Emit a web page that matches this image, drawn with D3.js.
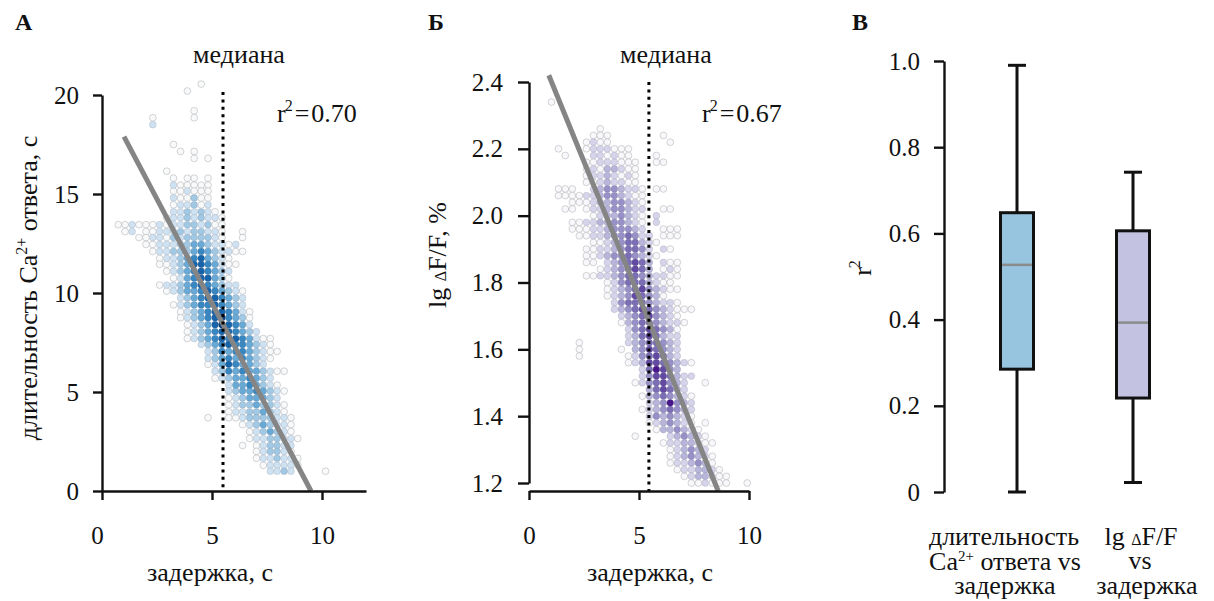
<!DOCTYPE html>
<html>
<head>
<meta charset="utf-8">
<title>задержка</title>
<script src="https://cdn.jsdelivr.net/npm/d3@7"></script>
<style>
  body { margin: 0; background: #fff; }
  text { font-family: "Liberation Serif", "Times New Roman", serif; fill: #111; }
</style>
</head>
<body>
<div id="chart"></div>
<script>
// ---- data ----
// panel A: grid columns (x, s) for n = -10..20, rows [y, first n, density levels]
var gridXA = [0.74, 1.05, 1.37, 1.68, 2.0, 2.31, 2.62, 2.94, 3.25, 3.57, 3.88, 4.19, 4.51, 4.82, 5.14,
              5.45, 5.76, 6.08, 6.39, 6.71, 7.02, 7.33, 7.65, 7.96, 8.28, 8.59, 8.9, 9.22, 9.53, 9.85, 10.16];
var rowsA = [
  [20.55, 2, "0"], [20.2, 0, "0"], [19.2, 1, "0"], [18.85, -5, "0.....0"], [18.5, -5, "1"],
  [17.5, -2, "0"], [17.15, -1, "0.0"], [16.8, 1, "0.0"], [16.15, -3, "0"], [15.8, -2, "0.00.0"],
  [15.45, -2, "100000"], [15.15, -2, "001000"], [14.8, -2, "100200"], [14.45, -2, "011201"],
  [14.1, -2, "1121210"], [13.8, -3, "011212110"], [13.45, -10, "0010001011221200"],
  [13.1, -9, "01.001112122110..0"], [12.8, -7, "0011021222210..0"], [12.45, -6, "00111223321101"],
  [12.1, -5, "01122234321100"], [11.75, -4, "01123453210"], [11.45, -4, "001235543100"],
  [11.1, -3, "0123454321"], [10.75, -2, "013455320"], [10.4, -4, "011234543211"],
  [10.1, -3, "012334543210"], [9.75, -1, "1234554321"], [9.4, -2, "01234454321"],
  [9.05, -1, "01234554310"], [8.75, -1, "01234564320"], [8.4, 0, "0123565431"],
  [8.05, 0, "01234554321"], [7.7, 0, "0123454543100"], [7.4, 2, "12345443210"],
  [7.05, 3, "12434432100"], [6.7, 3, "1234343210"], [6.4, 3, "013543321"],
  [6.05, 4, "12434332100"], [5.7, 4, "012334321"], [5.35, 6, "13343210"],
  [5.05, 6, "123343210"], [4.7, 6, "01233321"], [4.35, 6, "012232210"], [4.0, 6, "011223210"],
  [3.7, 3, "0..0012222110"], [3.35, 8, "01232110"], [3.0, 9, "0123210"], [2.65, 9, "01122110"],
  [2.3, 8, "0.012211"], [2.0, 10, "012210"], [1.65, 10, "0112110"], [1.3, 11, "011110"],
  [1.0, 12, "1121....0"]
];
var fitA = [[1.0, 17.9], [9.5, 0]];
var medianA = 5.5;
var r2A = "0.70";

// panel Б: grid columns for n = -14..14
var gridXB = [1.02, 1.34, 1.65, 1.97, 2.29, 2.61, 2.93, 3.24, 3.56, 3.88, 4.2, 4.52, 4.83, 5.15, 5.47,
              5.79, 6.11, 6.42, 6.74, 7.06, 7.38, 7.70, 8.01, 8.33, 8.65, 8.97, 9.29, 9.6, 9.92];
var rowsB = [
  [2.34, -14, "0"], [2.26, -7, "0"], [2.24, -8, "000.......0"], [2.22, -9, "0100........0"],
  [2.20, -13, "0...0111000"], [2.18, -12, "0...110100...0"], [2.16, -9, "00111000..00"],
  [2.14, -9, "01022100"], [2.12, -9, "01121010"], [2.10, -9, "00121100"],
  [2.08, -13, "000..12332110.00"], [2.06, -13, "0000112332100"], [2.04, -11, "00012233210"],
  [2.02, -12, "00.011233211..00"], [2.00, -8, "01223210.1"], [1.98, -11, "00112233210.1"],
  [1.96, -11, "00011233321..000"], [1.94, -10, "00112334311.000"], [1.92, -8, "0012344210"],
  [1.90, -9, "0011234431.10"], [1.88, -9, "00123343210"], [1.86, -9, "00.1234542.100"],
  [1.84, -7, "01234542.010"], [1.82, -9, "00112344321100"], [1.80, -6, "0134442100"],
  [1.78, -6, "01234532100"], [1.76, -6, "012354320"], [1.74, -5, "1344432110"],
  [1.72, -5, "123454321000"], [1.70, -4, "123453210"], [1.68, -4, "0234432110"],
  [1.66, -3, "13454320"], [1.64, -3, "12454211"], [1.62, -10, "0......12344321"],
  [1.60, -10, "0.....0.2354321"], [1.58, -10, "0......01345421"], [1.56, -3, "0125543210"],
  [1.54, -1, "146532"], [1.52, -1, "13554211"], [1.50, -2, "01345321..0"], [1.48, 0, "245421"],
  [1.46, -1, "02343210"], [1.44, 0, "1236321"], [1.42, -1, "01234321"], [1.40, 0, "1323210"],
  [1.38, 0, "0123210.0"], [1.36, 1, "0223210"], [1.34, -2, "0....123210"], [1.32, 2, "01122100"],
  [1.30, 3, "012321"], [1.28, 3, "0123210"], [1.26, 3, "0112320"], [1.24, 4, "0112210"],
  [1.22, 5, "0122100"], [1.20, 6, "001000..0"]
];
var fitB = [[0.9, 2.42], [8.6, 1.176]];
var medianB = 5.45;
var r2B = "0.67";

// panel В: box plots of r^2
var boxCats = ["dur", "amp"];
var boxMin = [0.0, 0.022];
var boxQ1 = [0.285, 0.218];
var boxMed = [0.527, 0.393];
var boxQ3 = [0.648, 0.606];
var boxMax = [0.99, 0.742];

// ---- drawing ----
var blues = ["#f7f9fb", "#cfe2f2", "#a2c9e4", "#68aad5", "#3887c1", "#1864aa", "#0a3f7c"];
var purples = ["#f8f7fb", "#d6d4eb", "#b8b5da", "#9791c8", "#7b6eb5", "#6249a1", "#47168a"];

var svg = d3.select("#chart").append("svg")
    .attr("width", 1214)
    .attr("height", 601);

function expand(rows, grid, offset) {
  var pts = [];
  rows.forEach(function(r) {
    for (var i = 0; i < r[2].length; i++) {
      var c = r[2][i];
      if (c === ".") continue;
      pts.push({x: grid[r[1] + i + offset], y: r[0], lvl: +c});
    }
  });
  return pts.sort(function(a, b) { return a.lvl - b.lvl; });
}

function styleAxis(g) {
  g.attr("font-size", 25).attr("font-family", "Liberation Serif, serif");
  g.select(".domain").attr("stroke", "#111").attr("stroke-width", 2.4);
  g.selectAll(".tick line").attr("stroke", "#111").attr("stroke-width", 2.4);
  g.selectAll(".tick text").attr("fill", "#111");
}

function scatter(x, y, pts, pal) {
  svg.append("g").selectAll("circle")
    .data(pts)
    .enter().append("circle")
      .attr("cx", function(d) { return x(d.x); })
      .attr("cy", function(d) { return y(d.y); })
      .attr("r", 3.4)
      .attr("fill", function(d) { return pal[d.lvl]; })
      .attr("stroke", function(d) { return d.lvl === 0 ? "rgba(140,140,140,0.45)" : "rgba(90,90,110,0.2)"; })
      .attr("stroke-width", 0.8);
}

function fitLine(x, y, fit) {
  svg.append("path")
    .datum(fit)
    .attr("d", d3.line().x(function(d) { return x(d[0]); }).y(function(d) { return y(d[1]); }))
    .attr("stroke", "#858585")
    .attr("stroke-width", 5)
    .attr("fill", "none");
}

function medianLine(x, med, top, bottom) {
  svg.append("line")
    .attr("x1", x(med)).attr("x2", x(med))
    .attr("y1", top).attr("y2", bottom)
    .attr("stroke", "#000")
    .attr("stroke-width", 3)
    .attr("stroke-dasharray", "3,4.4");
}

function r2Label(px, py, val) {
  var t = svg.append("text").attr("x", px).attr("y", py).attr("font-size", 26);
  t.append("tspan").text("r");
  t.append("tspan").attr("font-size", 16).attr("dx", -1).attr("dy", -11).text("2");
  t.append("tspan").attr("dx", 2).attr("dy", 11).text("=");
  t.append("tspan").attr("dx", 2).text(val);
}

function label(txt, px, py, opts) {
  opts = opts || {};
  return svg.append("text")
    .attr("x", px).attr("y", py)
    .attr("text-anchor", opts.anchor || "middle")
    .attr("font-size", opts.size || 26)
    .attr("font-weight", opts.weight || "normal")
    .text(txt);
}

// ---------- panel A ----------
var xA = d3.scaleLinear().domain([0, 12]).range([102, 366]);
var yA = d3.scaleLinear().domain([0, 20]).range([491, 95]);

scatter(xA, yA, expand(rowsA, gridXA, 10), blues);
fitLine(xA, yA, fitA);
medianLine(xA, medianA, 92, 491);

svg.append("g").attr("transform", "translate(102,0)")
  .call(d3.axisLeft(yA).tickValues([0, 5, 10, 15, 20]).tickSize(9).tickSizeOuter(0).tickPadding(14))
  .call(styleAxis);
var axA = svg.append("g").attr("transform", "translate(0,491)")
  .call(d3.axisBottom(xA).tickValues([0, 5, 10]).tickSize(9).tickSizeOuter(0).tickPadding(26))
  .call(styleAxis);
axA.selectAll(".tick text").filter(function(d) { return d === 0; }).attr("dx", -5);

label("А", 15, 30, {anchor: "start", size: 24, weight: "bold"});
label("медиана", xA(medianA) + 16, 63);
r2Label(277, 122, r2A);
label("задержка, с", 210, 581);

var ttlA = svg.append("text")
  .attr("transform", "translate(37,288) rotate(-90)")
  .attr("text-anchor", "middle").attr("font-size", 26);
ttlA.append("tspan").text("длительность Ca");
ttlA.append("tspan").attr("font-size", 16).attr("dy", -10).text("2+");
ttlA.append("tspan").attr("dy", 10).text(" ответа, с");

// ---------- panel Б ----------
var xB = d3.scaleLinear().domain([0, 10]).range([529, 749]);
var yB = d3.scaleLinear().domain([1.2, 2.4]).range([483, 82]);

scatter(xB, yB, expand(rowsB, gridXB, 14), purples);
fitLine(xB, yB, fitB);
medianLine(xB, medianB, 82, 491);

svg.append("g").attr("transform", "translate(529,0)")
  .call(d3.axisLeft(yB).tickValues([1.2, 1.4, 1.6, 1.8, 2.0, 2.2, 2.4]).tickFormat(d3.format(".1f"))
    .tickSize(11).tickSizeOuter(0).tickPadding(15))
  .call(styleAxis);
svg.append("g").attr("transform", "translate(0,491)")
  .call(d3.axisBottom(xB).tickValues([0, 5, 10]).tickSize(9).tickSizeOuter(0).tickPadding(26))
  .call(styleAxis);

label("Б", 428, 30, {anchor: "start", size: 24, weight: "bold"});
label("медиана", xB(medianB) + 17, 63);
r2Label(702, 122, r2B);
label("задержка, с", 650, 581);

var ttlB = svg.append("text")
  .attr("transform", "translate(446,255) rotate(-90)")
  .attr("text-anchor", "middle").attr("font-size", 26);
ttlB.append("tspan").text("lg ");
ttlB.append("tspan").attr("font-size", 16).text("Δ");
ttlB.append("tspan").text("F/F, %");

// ---------- panel В ----------
var xC = d3.scalePoint().domain(boxCats).range([1017, 1133]);
var yC = d3.scaleLinear().domain([0, 1]).range([492, 61]);
var boxFill = ["#97c5df", "#c3c3e1"];
var boxW = 33, capW = 18;

svg.append("g").attr("transform", "translate(944,0)")
  .call(d3.axisLeft(yC).tickValues([0, 0.2, 0.4, 0.6, 0.8, 1.0])
    .tickFormat(function(d) { return d === 0 ? "0" : d3.format(".1f")(d); })
    .tickSize(10).tickSizeOuter(0).tickPadding(14))
  .call(styleAxis);

var boxes = svg.append("g").selectAll("g")
  .data(boxCats)
  .enter().append("g");

boxes.append("line")
  .attr("x1", function(d) { return xC(d); }).attr("x2", function(d) { return xC(d); })
  .attr("y1", function(d, i) { return yC(boxMin[i]); })
  .attr("y2", function(d, i) { return yC(boxMax[i]); })
  .attr("stroke", "#111").attr("stroke-width", 3);
[boxMin, boxMax].forEach(function(arr) {
  boxes.append("line")
    .attr("x1", function(d) { return xC(d) - capW / 2; })
    .attr("x2", function(d) { return xC(d) + capW / 2; })
    .attr("y1", function(d, i) { return yC(arr[i]); })
    .attr("y2", function(d, i) { return yC(arr[i]); })
    .attr("stroke", "#111").attr("stroke-width", 3);
});
boxes.append("rect")
  .attr("x", function(d) { return xC(d) - boxW / 2; })
  .attr("y", function(d, i) { return yC(boxQ3[i]); })
  .attr("width", boxW)
  .attr("height", function(d, i) { return yC(boxQ1[i]) - yC(boxQ3[i]); })
  .attr("fill", function(d, i) { return boxFill[i]; })
  .attr("stroke", "#111").attr("stroke-width", 3);
boxes.append("line")
  .attr("x1", function(d) { return xC(d) - boxW / 2 + 1.5; })
  .attr("x2", function(d) { return xC(d) + boxW / 2 - 1.5; })
  .attr("y1", function(d, i) { return yC(boxMed[i]); })
  .attr("y2", function(d, i) { return yC(boxMed[i]); })
  .attr("stroke", "#8c8c8c").attr("stroke-width", 2.5);

label("В", 852, 30, {anchor: "start", size: 24, weight: "bold"});

var ttlC = svg.append("text")
  .attr("transform", "translate(871,268) rotate(-90)")
  .attr("text-anchor", "middle").attr("font-size", 26);
ttlC.append("tspan").text("r");
ttlC.append("tspan").attr("font-size", 16).attr("dx", -1).attr("dy", -11).text("2");

// category labels (three short lines each)
label("длительность", 1004, 545);
var c2 = label("", 1005, 570);
c2.append("tspan").text("Ca");
c2.append("tspan").attr("font-size", 15).attr("dy", -9).text("2+");
c2.append("tspan").attr("dy", 9).text(" ответа vs");
label("задержка", 1005, 594);

var c4 = label("", 1141, 545);
c4.append("tspan").text("lg ");
c4.append("tspan").attr("font-size", 16).text("Δ");
c4.append("tspan").text("F/F");
label("vs", 1140, 569);
label("задержка", 1147, 594);
</script>
</body>
</html>
